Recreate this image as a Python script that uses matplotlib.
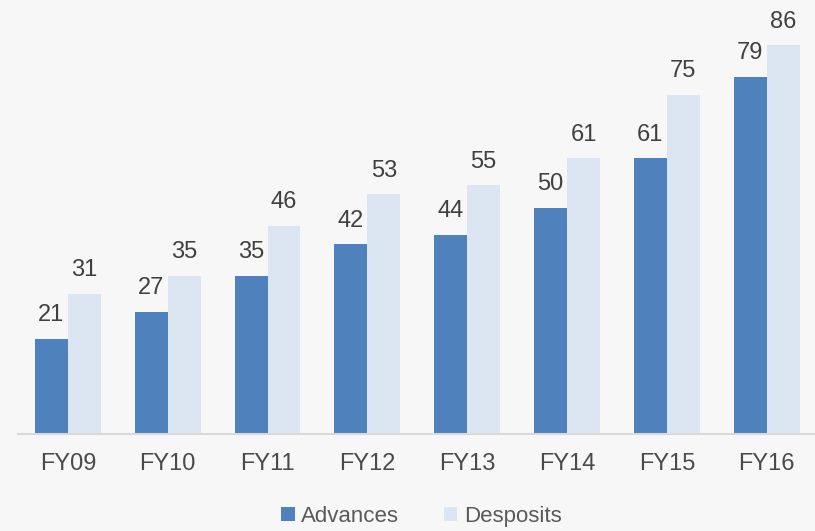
import matplotlib.pyplot as plt
import numpy as np

plt.rcParams['font.family'] = ['Liberation Sans', 'DejaVu Sans']

years = ['FY09', 'FY10', 'FY11', 'FY12', 'FY13', 'FY14', 'FY15', 'FY16']
advances = [21, 27, 35, 42, 44, 50, 61, 79]
deposits = [31, 35, 46, 53, 55, 61, 75, 86]

bg = '#f7f7f7'
fig = plt.figure(figsize=(8.15, 5.31), dpi=100, facecolor=bg)
ax = fig.add_axes([0.022, 0.183, 0.98, 0.817], facecolor=bg)

x = np.arange(len(years))
w = 0.33
b1 = ax.bar(x - w / 2, advances, w, color='#4f81bd', label='Advances')
b2 = ax.bar(x + w / 2, deposits, w, color='#dce6f2', label='Desposits')

# подписи значений над столбцами
for bars, vals in ((b1, advances), (b2, deposits)):
    for r, v in zip(bars, vals):
        ax.annotate(str(v), (r.get_x() + r.get_width() / 2, v),
                    xytext=(0, 9), textcoords='offset points',
                    ha='center', va='bottom', fontsize=17, color='#404040')

ax.set_xlim(-0.5, len(years) - 0.5)
ax.set_ylim(0, 96)
ax.set_yticks([])
ax.set_xticks(x)
ax.set_xticklabels(years, fontsize=17, color='#4a4a4a')
ax.tick_params(axis='x', length=0, pad=14)
for s in ('top', 'right', 'left'):
    ax.spines[s].set_visible(False)
ax.spines['bottom'].set_color('#d9d9d9')
ax.spines['bottom'].set_linewidth(1.5)

fig.legend(loc='center', bbox_to_anchor=(0.517, 0.027), ncol=2, frameon=False,
           fontsize=16, handlelength=0.6, handleheight=0.6, handletextpad=0.3,
           columnspacing=2.0, labelcolor='#595959')

fig.savefig('out.png', dpi=100, facecolor=bg)
